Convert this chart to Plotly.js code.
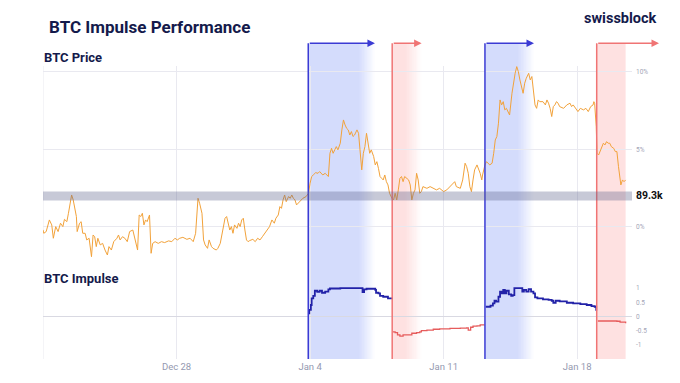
<!DOCTYPE html>
<html><head><meta charset="utf-8">
<script src="https://cdn.plot.ly/plotly-3.0.1.min.js"></script>
<style>html,body{margin:0;padding:0;background:#fff}#chart{width:680px;height:383px}</style>
</head><body><div id="chart"></div>
<script>
// ---- data (hours since Dec 21 00:00, % change / impulse value) ----
const startDateUTC = Date.UTC(2025, 11, 21);
const axisEndHour = 741;

const priceHours = [
  0,1,4,8,11,13,16,19,22,25, 27,30,32,34,36,38,40,42,43,46,
  48,50,53,55,58,61,63,65,67,69, 72,75,78,81,83,86,89,93,95,97,
  100,103,106,109,113,116,119,121,123,125, 127,129,131,134,136,138,141,145,149,153,
  158,162,166,169,172,176,181,185,189,192, 194,195,197,200,202,204,207,209,212,214,
  218,220,223,225,227,229,231,233,235,237, 239,241,244,246,248,250,252,254,256,258,
  260,264,267,270,273,276,279,282,285,288, 291,293,296,298,300,302,304,306,309,311,
  313,315,317,319,321,324,327,331,333,334, 336,338,340,343,346,348,352,355,359,361,
  363,365,367,369,371,374,376,378,380,382, 384,386,388,390,392,395,397,399,401,403,
  405,407,409,411,413,416,418,420,422,424, 426,428,430,432,434,436,439,441,443,445,
  447,449,451,453,455,457,460,462,464,466, 468,470,472,474,476,478,483,487,491,495,
  499,504,508,512,516,518,520,525,528,531, 533,535,537,539,541,543,546,548,550,552,
  553,556,558,562,565,567,569,571,573,575, 577,579,581,583,585,587,590,592,594,596,
  598,600,602,604,606,608,611,613,615,617, 619,621,623,625,629,632,634,636,638,640,
  642,644,646,648,650,655,659,663,665,667, 671,673,676,680,683,686,689,692,693,694,
  696,697,699,701,703,705,707,709,711,713, 715,718,720,722,724,726,727,729,731,733
];
const pricePct = [
  -0.19,-0.41,-0.30,0.45,0.13,-0.73,0.02,-0.30,0.24,0.02, 0.49,0.34,0.88,1.63,2.06,1.74,1.10,0.67,-0.30,0.24,
  0.34,-0.41,-0.41,-0.84,-0.73,-1.92,-0.52,-0.63,-1.27,-0.73, -1.16,-1.06,-1.49,-1.81,-1.27,-1.49,-0.95,-0.73,-0.52,-0.84,
  -0.63,-0.73,-0.95,-0.30,-0.20,-0.84,-1.49,0.77,0.67,0.88, 0.13,0.45,0.34,0.77,-1.70,-1.06,-0.95,-1.06,-0.95,-1.01,
  -0.90,-0.95,-0.73,-0.84,-0.73,-0.67,-0.80,-0.73,-0.95,-0.41, 0.88,1.85,1.53,0.88,-0.84,-1.16,-1.38,-0.84,-1.27,-1.38,
  -1.49,-1.38,-1.06,-0.52,-0.20,0.56,0.67,0.24,-0.20,0.02, -0.41,0.13,-0.09,0.24,0.02,0.45,0.56,-0.20,-0.84,-0.95,
  -0.88,-0.80,-0.95,-0.73,-0.84,-0.63,-0.41,-0.20,0.02,0.45, 0.24,0.56,0.77,1.31,1.20,1.74,2.06,1.63,1.96,1.85,
  2.06,1.85,1.74,1.42,1.53,1.74,1.85,1.96,2.06,2.17, 2.82,3.25,3.35,3.50,3.46,3.57,3.35,3.46,3.25,4.75,
  5.07,4.75,4.97,5.18,4.97,5.40,6.26,6.90,6.58,6.36, 6.26,5.93,6.15,5.83,5.93,6.26,6.04,4.97,3.68,4.75,
  5.18,6.04,5.40,4.75,4.97,4.54,4.00,4.21,3.78,3.25, 3.14,3.03,3.35,2.92,2.71,2.17,1.85,1.74,2.17,1.74,
  2.39,3.14,3.25,2.92,3.25,3.14,3.03,2.71,1.74,2.17, 2.39,3.46,3.03,2.17,2.28,2.60,2.49,2.60,2.49,2.39,
  2.49,2.28,2.39,2.60,2.82,2.92,2.60,2.49,3.03,4.11, 3.89,3.46,2.60,2.28,3.03,3.68,4.00,3.78,3.46,3.03,
  3.35,4.00,4.21,4.00,4.11,4.75,5.61,5.83,6.69,8.19, 7.87,8.08,7.55,7.65,7.44,7.22,8.62,9.37,9.91,10.34,
  10.02,9.48,9.05,8.62,9.27,9.59,9.91,9.48,9.70,8.84, 7.87,7.65,8.19,8.08,8.08,7.87,8.19,7.98,7.65,7.12,
  7.76,7.87,8.08,7.98,7.76,7.65,7.87,7.98,7.76,7.87, 7.55,7.44,7.65,7.55,7.65,7.44,7.76,7.87,8.08,7.98,
  6.47,4.75,4.64,4.86,5.18,5.40,5.29,5.50,5.40,5.40, 5.18,5.07,4.86,4.86,3.89,3.14,2.71,3.03,2.92,3.03
];

const impulseHours = [
  334,335,337,338,340,342,345,348,351,355, 359,361,374,401,402,404,407,416,418,419,
  422,424,428,432,434,439,
  440,443,446,449,453,457,464,470,474,476, 483,491,499,512,525,533,535,538,541,546, 550,555,
  557,560,563,566,568,570,573,575,577,579, 581,583,586,589,591,593,600,603,605,608,
  611,614,617,619,622,629,636,640,642,645, 650,659,667,676,684,690,694,696,
  698,709,722,726,733
];
const impulseValues = [
  0.12,0.24,0.41,0.64,0.73,0.91,0.87,0.91,0.84,0.88, 0.96,0.99,1.0,1.0,0.86,0.96,0.98,0.98,0.94,0.84,
  0.82,0.73,0.70,0.70,0.64,0.61,
  -0.53,-0.56,-0.64,-0.68,-0.64,-0.64,-0.58,-0.56,-0.53,-0.49, -0.47,-0.44,-0.43,-0.41,-0.40,-0.39,-0.47,-0.37,-0.33,-0.32, -0.29,-0.27,
  0.35,0.35,0.39,0.47,0.56,0.53,0.70,0.88,0.82,0.94, 0.82,0.91,0.78,0.73,0.76,1.0,1.0,0.88,0.94,0.88,
  0.97,0.88,0.82,0.68,0.64,0.61,0.59,0.56,0.49,0.56, 0.54,0.49,0.47,0.44,0.41,0.37,0.35,0.21,
  -0.15,-0.15,-0.16,-0.19,-0.23
];

const regimeStartHours = [333.7, 439.3, 556.0, 696.6];
const regimeArrowEndHours = [417.6, 476.3, 617.7, 775.0];
const regimeKinds = ['up', 'down', 'up', 'down'];

const xTickDays = [0, 7, 14, 21, 28];
const xTickLabels = ['', 'Dec 28', 'Jan 4', 'Jan 11', 'Jan 18'];
const priceTickVals = [0, 5, 10];
const priceTickLabels = ['0%', '5%', '10%'];
const impulseTickVals = [-1, -0.5, 0, 0.5, 1];
const impulseTickLabels = ['-1', '-0.5', '0', '0.5', '1'];
const levelLabel = '89.3k';
const levelPct = 2.0;
const levelHalfWidth = 0.29;

// ---- helpers ----
const toDate = h => new Date(startDateUTC + h * 3600000).toISOString().slice(0, 19).replace('T', ' ');
const W = 680, H = 383;
const M = {l: 43, r: 48, t: 44, b: 24};
const plotW = W - M.l - M.r;
const plotH = H - M.t - M.b;
const pxX = px => (px - M.l) / plotW;
const pxY = py => (H - M.b - py) / plotH;
const FONT = 'Roboto, Inter, "Noto Sans", sans-serif';
const NAVY = '#141a4b';

const STYLE = {
  up:   {line: '#3b3bd4', imp: '#2222a8', fill: [90, 120, 245], alpha: 0.26, impWidth: 1.8},
  down: {line: '#f07474', imp: '#e65c5c', fill: [250, 120, 120], alpha: 0.22, impWidth: 1.3}
};

const lastHour = priceHours[priceHours.length - 1];

// ---- traces ----
const traces = [];
traces.push({
  x: priceHours.map(toDate), y: pricePct, type: 'scatter', mode: 'lines',
  line: {color: '#f2a23a', width: 1}, xaxis: 'x', yaxis: 'y', hoverinfo: 'skip'
});

function regimeOf(h) {
  let r = -1;
  for (let i = 0; i < regimeStartHours.length; i++) if (h >= regimeStartHours[i]) r = i;
  return r;
}
for (let r = 0; r < regimeStartHours.length; r++) {
  const xs = [], ys = [];
  impulseHours.forEach((h, i) => { if (regimeOf(h) === r) { xs.push(toDate(h)); ys.push(impulseValues[i]); } });
  const st = STYLE[regimeKinds[r]];
  traces.push({
    x: xs, y: ys, type: 'scatter', mode: 'lines', line: {color: st.imp, width: st.impWidth, shape: 'hv'},
    xaxis: 'x', yaxis: 'y2', hoverinfo: 'skip'
  });
}

// ---- shapes & annotations ----
const shapes = [];
const annotations = [];
const FADE_H = 20, STRIPS = 10;
regimeStartHours.forEach((s, i) => {
  const st = STYLE[regimeKinds[i]];
  const end = regimeArrowEndHours[i];
  const shadeEnd = Math.min(end, lastHour);
  const fadeStart = end - FADE_H;
  const rgba = a => `rgba(${st.fill[0]},${st.fill[1]},${st.fill[2]},${a.toFixed(3)})`;
  shapes.push({type: 'rect', xref: 'x', yref: 'paper', x0: toDate(s), x1: toDate(Math.min(fadeStart, shadeEnd)),
    y0: 0, y1: 1, fillcolor: rgba(st.alpha), line: {width: 0}, layer: 'below'});
  for (let k = 0; k < STRIPS; k++) {
    const a0 = fadeStart + k * FADE_H / STRIPS;
    const a1 = Math.min(a0 + FADE_H / STRIPS, shadeEnd);
    if (a0 >= shadeEnd) break;
    shapes.push({type: 'rect', xref: 'x', yref: 'paper', x0: toDate(a0), x1: toDate(a1), y0: 0, y1: 1,
      fillcolor: rgba(st.alpha * (1 - (k + 0.5) / STRIPS)), line: {width: 0}, layer: 'below'});
  }
  shapes.push({type: 'line', xref: 'x', yref: 'paper', x0: toDate(s), x1: toDate(s), y0: 0, y1: 1.002,
    line: {color: st.line, width: 1.5}, layer: 'above'});
  const lenPx = (end - s) / axisEndHour * plotW;
  annotations.push({xref: 'paper', yref: 'paper', x: end / axisEndHour, y: 1.002, ax: -lenPx, ay: 0,
    axref: 'pixel', ayref: 'pixel', text: '', showarrow: true, arrowhead: 2, arrowsize: 1,
    arrowwidth: 1.5, arrowcolor: st.line, standoff: 0});
});

// left-edge gridline (Dec 21)
shapes.push({type: 'line', xref: 'x', yref: 'paper', x0: toDate(0), x1: toDate(0), y0: 0, y1: pxY(66),
  line: {color: '#e9e9f0', width: 1}, layer: 'below'});

shapes.push({type: 'rect', xref: 'paper', yref: 'y', x0: 0, x1: 1, y0: levelPct - levelHalfWidth,
  y1: levelPct + levelHalfWidth, fillcolor: 'rgba(95,100,140,0.35)', line: {width: 0}, layer: 'above'});

annotations.push({xref: 'paper', yref: 'y', x: 1, y: levelPct, xanchor: 'left', yanchor: 'middle', xshift: 2,
  text: levelLabel, showarrow: false, font: {family: FONT, size: 10.5, color: '#111', weight: 700}});
annotations.push({xref: 'paper', yref: 'paper', x: pxX(47), y: pxY(27), xanchor: 'left', yanchor: 'middle',
  text: 'BTC Impulse Performance', showarrow: false, font: {family: FONT, size: 17, color: NAVY, weight: 700}});
annotations.push({xref: 'paper', yref: 'paper', x: pxX(659), y: pxY(18), xanchor: 'right', yanchor: 'middle',
  text: 'swissblock', showarrow: false, font: {family: FONT, size: 14.5, color: NAVY, weight: 700}});
annotations.push({xref: 'paper', yref: 'paper', x: pxX(42), y: pxY(58), xanchor: 'left', yanchor: 'middle',
  text: 'BTC Price', showarrow: false, font: {family: FONT, size: 13, color: NAVY, weight: 700}});
annotations.push({xref: 'paper', yref: 'paper', x: pxX(42), y: pxY(278), xanchor: 'left', yanchor: 'middle',
  text: 'BTC Impulse', showarrow: false, font: {family: FONT, size: 13, color: NAVY, weight: 700}});

const priceTop = pxY(66), split = pxY(266);
const layout = {
  width: W, height: H, margin: {l: M.l, r: M.r, t: M.t, b: M.b, autoexpand: false},
  paper_bgcolor: '#fff', plot_bgcolor: 'rgba(0,0,0,0)', showlegend: false,
  font: {family: FONT},
  xaxis: {type: 'date', range: [toDate(0), toDate(axisEndHour)], anchor: 'y2',
    tickvals: xTickDays.map(d => toDate(d * 24)), ticktext: xTickLabels,
    showgrid: true, gridcolor: '#e9e9f0', gridwidth: 1, zeroline: false, showline: false, ticks: '',
    tickfont: {family: FONT, size: 9.5, color: '#9499b0'}},
  yaxis: {domain: [split, priceTop], range: [-2.52, 10.38], side: 'right', anchor: 'x',
    tickvals: priceTickVals, ticktext: priceTickLabels, showgrid: true, gridcolor: '#e9e9f0',
    zeroline: false, ticks: '', ticklabelstandoff: 3, tickfont: {family: FONT, size: 6.5, color: '#a4a6b8'}},
  yaxis2: {domain: [0, split], range: [-1.484, 1.779], side: 'right', anchor: 'x',
    tickvals: impulseTickVals, ticktext: impulseTickLabels, showgrid: false,
    zeroline: true, zerolinecolor: '#d9d9e2', zerolinewidth: 1, ticks: '', ticklabelstandoff: 3,
    tickfont: {family: FONT, size: 6.5, color: '#a4a6b8'}},
  shapes: shapes, annotations: annotations
};

Plotly.newPlot('chart', traces, layout, {staticPlot: true, displayModeBar: false});
</script>
</body></html>
